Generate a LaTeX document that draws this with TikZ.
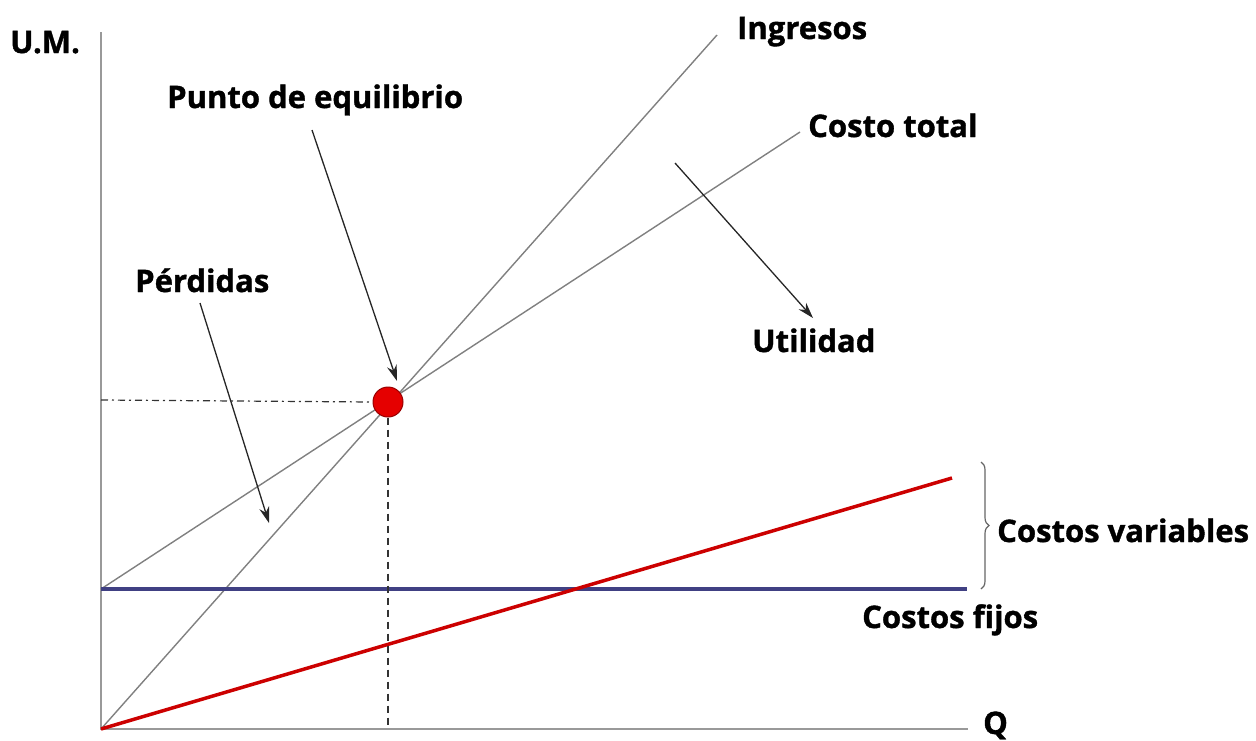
\documentclass[tikz,border=0pt]{standalone}
\usepackage{fontspec}
\setmainfont{Open Sans}[BoldFeatures={FakeBold=1.2}]
\usetikzlibrary{arrows.meta,decorations.pathreplacing}

\begin{document}
\begin{tikzpicture}[x=1pt,y=-1pt,
  lbl/.style={font=\bfseries\fontsize{31}{34}\selectfont,inner sep=0pt,anchor=base west},
  eje/.style={black!40,line width=2pt},
  recta/.style={black!50,line width=1.4pt},
  flecha/.style={-{Stealth[length=16pt,width=10pt]},black!85,line width=1.3pt},
  guia/.style={black!80,line width=1.2pt}]
\useasboundingbox (0,0) rectangle (1256,740);

% ejes
\coordinate(O) at (101,729);
\coordinate(Ytop) at (101,32);
\coordinate(Xend) at (968,729);
\draw[eje](Ytop) -- (O) -- (Xend);

% rectas
\coordinate(CF) at (101,589);
\coordinate(CFend) at (967,589);
\coordinate(Ing) at (717,35);
\coordinate(CT) at (800,132);
\coordinate(CV) at (952,478);
\draw[recta](O) -- (Ing);
\draw[recta](CF) -- (CT);
\draw[line width=3.5pt,blue!35!black!75](CF) -- (CFend);
\draw[line width=3.5pt,red!80!black](O) -- (CV);

% punto de equilibrio
\coordinate(Yeq) at (101,400);
\coordinate(Xeq) at (388,729);
\node[circle,fill=red!90!black,draw=red!60!black,line width=1pt,minimum size=30pt,inner sep=0pt](PE) at (388,402){};
\draw[guia,dash pattern=on 7pt off 4pt on 2pt off 4pt](Yeq) -- (PE.west);
\draw[guia,dash pattern=on 7pt off 5pt](PE.south) -- (Xeq);

% llave
\coordinate(B1) at (981,462);
\coordinate(B2) at (981,589);
\draw[black!60,line width=1.2pt,decorate,decoration={brace,amplitude=8pt}](B1) -- (B2);

% textos
\node[lbl](UM) at (10,53){U.M.};
\node[lbl](Pto) at (167,108){Punto de equilibrio};
\node[lbl](Per) at (135,292){Pérdidas};
\node[lbl](IngL) at (737,39){Ingresos};
\node[lbl](CTL) at (808,137){Costo total};
\node[lbl](Uti) at (752,352){Utilidad};
\node[lbl](CVL) at (997,542){Costos variables};
\node[lbl](CFL) at (862,628){Costos fijos};
\node[lbl](QL) at (983,734){Q};

% flechas
\coordinate(a1) at (312,130);
\coordinate(a2) at (397,381);
\coordinate(b1) at (200,303);
\coordinate(b2) at (269,523);
\coordinate(c1) at (675,163);
\coordinate(c2) at (813,318);
\draw[flecha](a1) -- (a2);
\draw[flecha](b1) -- (b2);
\draw[flecha](c1) -- (c2);

\end{tikzpicture}
\end{document}
